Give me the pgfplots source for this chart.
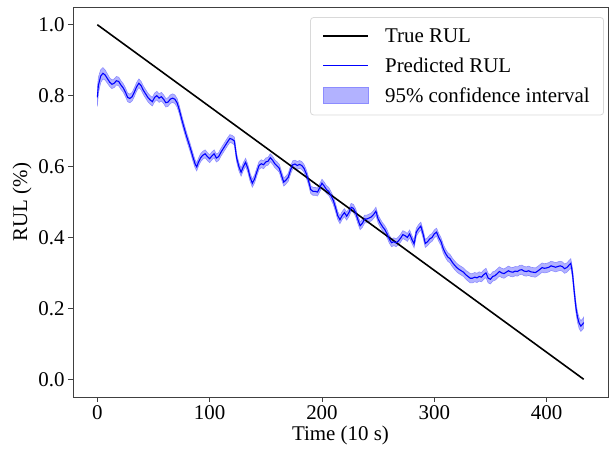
\documentclass[border=0pt]{standalone}
\usepackage{fontspec}
\setmainfont{Liberation Serif}
\usepackage{pgfplots}
\usepackage{pgfplotstable}
\usepgfplotslibrary{fillbetween}
\pgfplotsset{compat=1.18}
\definecolor{predblue}{RGB}{0,0,255}
\definecolor{bandfill}{RGB}{178,178,255}
\definecolor{bandedge}{RGB}{140,140,255}
\pgfplotstableread{
t v e
0 0.795 0.025
1 0.830 0.022
3 0.855 0.018
5 0.863 0.016
7 0.858 0.014
9 0.848 0.013
11 0.838 0.012
13 0.832 0.012
15 0.835 0.012
17 0.842 0.012
19 0.840 0.012
21 0.830 0.012
23 0.822 0.012
25 0.810 0.012
27 0.795 0.012
29 0.792 0.012
31 0.797 0.012
33 0.810 0.012
35 0.825 0.012
37 0.835 0.012
39 0.828 0.012
41 0.815 0.012
43 0.805 0.012
45 0.795 0.012
47 0.788 0.012
49 0.783 0.012
51 0.795 0.012
53 0.800 0.012
55 0.793 0.012
57 0.797 0.012
59 0.790 0.012
61 0.780 0.012
63 0.782 0.012
65 0.790 0.012
67 0.793 0.012
69 0.790 0.012
71 0.780 0.012
73 0.760 0.011
75 0.735 0.011
77 0.712 0.011
79 0.690 0.011
81 0.670 0.011
83 0.650 0.011
85 0.628 0.011
87 0.608 0.011
88.5 0.599 0.011
90 0.612 0.011
92 0.625 0.011
94 0.632 0.011
96 0.636 0.011
98 0.628 0.011
100 0.622 0.011
102 0.630 0.011
104 0.636 0.011
106 0.624 0.011
108 0.628 0.011
110 0.640 0.011
112 0.650 0.011
114 0.660 0.011
116 0.670 0.011
118 0.679 0.011
120 0.677 0.011
122 0.672 0.011
124 0.625 0.011
126 0.600 0.011
128 0.584 0.011
130 0.600 0.011
132 0.612 0.011
134 0.595 0.011
136 0.570 0.011
138 0.553 0.011
140 0.565 0.011
142 0.585 0.011
144 0.603 0.011
146 0.608 0.011
148 0.605 0.011
150 0.613 0.011
152 0.615 0.011
154 0.625 0.011
156 0.618 0.011
158 0.608 0.011
160 0.602 0.011
162 0.595 0.011
164 0.575 0.011
166 0.556 0.011
168 0.562 0.011
170 0.570 0.011
172 0.590 0.011
174 0.605 0.011
176 0.607 0.011
178 0.603 0.011
180 0.606 0.011
182 0.603 0.011
184 0.595 0.011
186 0.580 0.011
188 0.560 0.011
190 0.535 0.011
192 0.530 0.011
194 0.530 0.011
196 0.528 0.011
198 0.540 0.011
200 0.553 0.011
202 0.545 0.011
204 0.535 0.011
206 0.530 0.011
208 0.518 0.011
210 0.505 0.011
212 0.485 0.011
214 0.462 0.011
216 0.450 0.011
218 0.462 0.011
220 0.470 0.011
222 0.460 0.011
224 0.470 0.011
226 0.485 0.011
228 0.482 0.011
230 0.470 0.011
232 0.450 0.011
234 0.433 0.011
236 0.440 0.011
238 0.452 0.011
240 0.452 0.011
242 0.455 0.011
244 0.458 0.011
246 0.465 0.011
248 0.474 0.011
250 0.452 0.011
252 0.440 0.011
254 0.430 0.011
256 0.422 0.011
258 0.410 0.011
260 0.395 0.011
262 0.385 0.011
264 0.388 0.011
266 0.385 0.011
268 0.390 0.011
270 0.398 0.011
272 0.408 0.011
274 0.405 0.011
276 0.400 0.011
278 0.410 0.011
280 0.395 0.011
282 0.382 0.011
284 0.415 0.011
286 0.425 0.011
288 0.432 0.011
290 0.410 0.011
292 0.383 0.011
294 0.388 0.011
296 0.396 0.011
298 0.400 0.011
300 0.410 0.011
302 0.415 0.011
304 0.400 0.011
306 0.388 0.011
308 0.368 0.012
310 0.355 0.012
312 0.345 0.012
314 0.340 0.012
316 0.330 0.012
318 0.322 0.012
320 0.315 0.012
322 0.310 0.012
324 0.306 0.012
326 0.302 0.012
328 0.295 0.012
330 0.290 0.013
332 0.285 0.013
334 0.285 0.013
336 0.288 0.013
338 0.286 0.013
340 0.290 0.013
342 0.288 0.013
344 0.295 0.013
346 0.300 0.013
348 0.285 0.013
350 0.282 0.013
352 0.290 0.013
354 0.292 0.013
356 0.298 0.013
358 0.304 0.013
360 0.300 0.013
362 0.298 0.013
364 0.302 0.013
366 0.306 0.013
368 0.303 0.013
370 0.302 0.013
372 0.305 0.013
374 0.304 0.013
376 0.308 0.013
378 0.309 0.013
380 0.305 0.013
382 0.304 0.013
384 0.306 0.013
386 0.303 0.013
388 0.302 0.013
390 0.301 0.013
392 0.305 0.013
394 0.310 0.013
396 0.315 0.013
398 0.313 0.013
400 0.314 0.013
402 0.316 0.013
404 0.320 0.013
406 0.318 0.013
408 0.316 0.013
410 0.318 0.013
412 0.320 0.013
414 0.318 0.013
416 0.312 0.013
418 0.315 0.013
420 0.322 0.013
421.5 0.327 0.013
423 0.300 0.013
424.5 0.250 0.013
426 0.205 0.014
427.5 0.175 0.014
429 0.158 0.015
430.5 0.150 0.015
432 0.155 0.015
433 0.160 0.015
}\predtab
\begin{document}
\begin{tikzpicture}[x=1bp,y=1bp]
\begin{axis}[
  scale only axis,
  width=535bp, height=390bp,
  xmin=-21.65, xmax=454.65,
  ymin=-0.05, ymax=1.05,
  xtick={0,100,200,300,400},
  ytick={0,0.2,0.4,0.6,0.8,1.0},
  yticklabel style={/pgf/number format/.cd, fixed, fixed zerofill, precision=1},
  /pgf/number format/assume math mode=true,
  tick label style={font=\fontsize{21}{25}\selectfont},
  label style={font=\fontsize{21}{25}\selectfont},
  tick align=outside, tick pos=left,
  major tick length=5bp,
  every tick/.style={black!75, line width=0.9bp},
  axis line style={black!75, line width=0.9bp},
  xlabel={Time (10 s)}, ylabel={RUL (\%)},
  legend cell align=left,
  legend style={at={(0.9925,0.974)}, anchor=north east,
    font=\fontsize{21}{25}\selectfont,
    draw=black!15, rounded corners=3bp, line width=0.8bp,
    inner xsep=12bp, inner ysep=9bp,
    row sep=10bp, column sep=14bp},
]
\addplot[draw=none, name path=hi, forget plot] table[x=t, y expr=\thisrow{v}+\thisrow{e}] {\predtab};
\addplot[draw=none, name path=lo, forget plot] table[x=t, y expr=\thisrow{v}-\thisrow{e}] {\predtab};
\addplot[fill=bandfill, draw=bandedge, line width=0.6bp, forget plot] fill between[of=hi and lo];
\addplot[black, line width=1.6bp, forget plot] coordinates {(0,1) (433,0)};
\addplot[predblue, line width=1.1bp, forget plot] table[x=t, y=v] {\predtab};
\addlegendimage{legend image code/.code={\draw[black, line width=1.6bp] (0bp,0bp) -- (45bp,0bp);}}
\addlegendentry{True RUL}
\addlegendimage{legend image code/.code={\draw[predblue, line width=1.1bp] (0bp,0bp) -- (45bp,0bp);}}
\addlegendentry{Predicted RUL}
\addlegendimage{legend image code/.code={\draw[fill=bandfill, draw=bandedge, line width=0.8bp, sharp corners] (0bp,-8bp) rectangle (45bp,8bp);}}
\addlegendentry{95\% confidence interval}
\end{axis}
\pgfresetboundingbox
\path ([xshift=-73bp,yshift=-55bp]current axis.south west) rectangle ([xshift=1bp,yshift=7bp]current axis.north east);
\end{tikzpicture}
\end{document}
